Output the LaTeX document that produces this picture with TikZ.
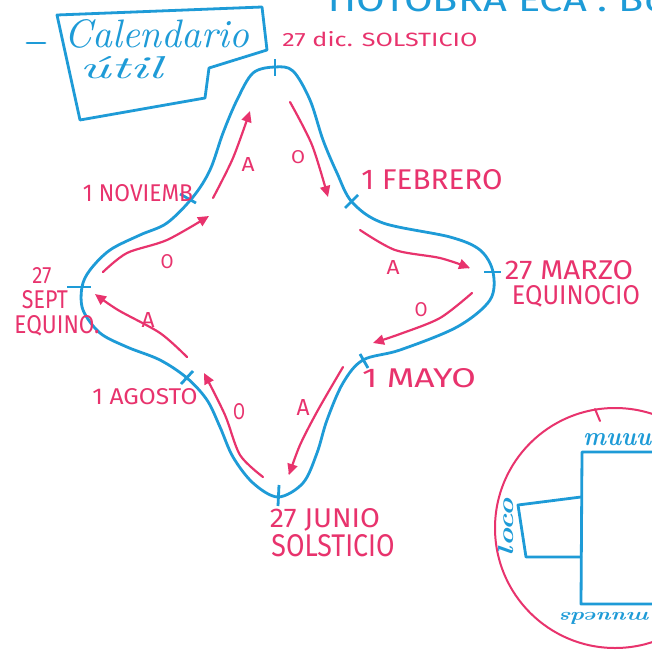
\documentclass[tikz,border=0pt]{standalone}
\usepackage{fontspec}
\newfontfamily\caps{Fira Sans}
\usetikzlibrary{arrows.meta}
\definecolor{pblue}{HTML}{1E9BD7}
\definecolor{pred}{HTML}{E8336D}
\newcommand\fitbox[3]{\resizebox{#1pt}{#2pt}{#3}}
\begin{document}
\begin{tikzpicture}[x=1pt,y=-1pt,
  bline/.style={draw=pblue,line width=2.8pt,line cap=round,line join=round},
  rline/.style={draw=pred,line width=2pt,line cap=round,line join=round},
  rarrow/.style={draw=pred,line width=2.2pt,line cap=round,-{Triangle[length=11pt,width=10pt]}},
  tickmark/.style={draw=pblue,line width=2.8pt},
  rlab/.style={text=pred,inner sep=0pt,font=\caps},
  alab/.style={text=pred,inner sep=0pt,font=\caps},
  blab/.style={text=pblue,inner sep=0pt}]
\useasboundingbox (0,0) rectangle (651,653);
\fill[white] (0,0) rectangle (651,653);

% clipped heading at top
\node[blab,anchor=south west,font=\caps] (head) at (323,12) {\fitbox{345}{24}{TIOTOBRA ECA . Bo}};

% title box
\draw[bline] (57,15) -- (262,7) -- (267,50) -- (209,68) -- (205,98) -- (80,120) -- cycle;
\draw[bline] (27,43) -- (45,43);
\node[blab] (cal) at (157,34) {\fitbox{185}{28}{\itshape Calendario}};
\node[blab] (util) at (121,68) {\fitbox{83}{22}{\itshape útil}};

% star
\draw[bline] plot[smooth cycle, tension=0.55] coordinates {
 (275,67) (293,71) (310,100) (323,140) (337,173) (352,202) (383,223) (450,237)
 (480,250) (493,272) (490,300) (457,327) (400,350) (363,360) (343,383) (327,420)
 (317,453) (303,483) (278,497) (253,483) (233,457) (220,427) (207,400) (187,378)
 (160,360) (127,347) (100,333) (83,310) (82,287) (90,270) (110,250) (140,235)
 (167,223) (193,197) (210,170) (223,133) (237,100) (253,73)};

% tick marks
\coordinate (tTop1) at (275,59);  \coordinate (tTop2) at (275,76);
\coordinate (tFeb1) at (345,208); \coordinate (tFeb2) at (358,195);
\coordinate (tMar1) at (484,272); \coordinate (tMar2) at (501,272);
\coordinate (tMay1) at (360,354); \coordinate (tMay2) at (368,368);
\coordinate (tJun1) at (279,485); \coordinate (tJun2) at (278,506);
\coordinate (tAgo1) at (181,384); \coordinate (tAgo2) at (193,371);
\coordinate (tSep1) at (67,287);  \coordinate (tSep2) at (91,287);
\coordinate (tNov1) at (180,194); \coordinate (tNov2) at (196,203);
\foreach \t in {Top,Feb,Mar,May,Jun,Ago,Sep,Nov}{\draw[tickmark] (t\t1) -- (t\t2);}

% red arrows
\draw[rarrow] plot[smooth] coordinates {(213,198) (233,158) (250,111)};
\draw[rarrow] plot[smooth] coordinates {(290,102) (312,145) (328,197)};
\draw[rarrow] plot[smooth] coordinates {(360,230) (395,250) (440,258) (470,268)};
\draw[rarrow] plot[smooth] coordinates {(472,293) (440,318) (400,334) (373,343)};
\draw[rarrow] plot[smooth] coordinates {(343,367) (318,410) (300,445) (289,475)};
\draw[rarrow] plot[smooth] coordinates {(263,477) (240,455) (225,415) (204,373)};
\draw[rarrow] plot[smooth] coordinates {(187,357) (160,333) (118,310) (95,294)};
\draw[rarrow] plot[smooth] coordinates {(103,272) (127,253) (167,240) (209,216)};

% arrow labels
\node[alab] (a1) at (248,164) {\fitbox{13}{14}{A}};
\node[alab] (a2) at (298,157) {\fitbox{14}{13}{O}};
\node[alab] (a3) at (393,267) {\fitbox{13}{14}{A}};
\node[alab] (a4) at (421,310) {\fitbox{13}{14}{O}};
\node[alab] (a5) at (303,407) {\fitbox{13}{16}{A}};
\node[alab] (a6) at (239,412) {\fitbox{12}{16}{O}};
\node[alab] (a7) at (148,320) {\fitbox{13}{15}{A}};
\node[alab] (a8) at (167,262) {\fitbox{13}{14}{O}};

% date labels
\node[rlab] (dic) at (380,39) {\fitbox{195}{15}{27 dic. SOLSTICIO}};
\node[rlab] (feb) at (432,180) {\fitbox{141}{20}{1 FEBRERO}};
\node[rlab] (mar) at (569,270) {\fitbox{128}{19}{27 MARZO}};
\node[rlab] (equ) at (576,296) {\fitbox{128}{19}{EQUINOCIO}};
\node[rlab] (may) at (419,378) {\fitbox{114}{19}{1 MAYO}};
\node[rlab] (jun) at (325,520) {\fitbox{110}{19}{27 JUNIO}};
\node[rlab] (sol) at (333,546) {\fitbox{123}{22}{SOLSTICIO}};
\node[rlab] (ago) at (145,397) {\fitbox{105}{16}{1 AGOSTO}};
\node[rlab] (s27) at (42,276) {\fitbox{19}{16}{27}};
\node[rlab] (sep) at (45,300) {\fitbox{46}{18}{SEPT}};
\node[rlab] (eqi) at (57,326) {\fitbox{85}{18}{EQUINO.}};
\node[rlab] (nov) at (138,193) {\fitbox{110}{17}{1 NOVIEMB}};

% circle sketch
\draw[rline] (615,528) circle[radius=120];
\draw[rline] (595,409) -- (600,421);
\draw[bline] (700,452) -- (582,452) -- (581,604) -- (700,604);
\draw[bline] (581,497) -- (518,505) -- (526,557) -- (581,557);
\node[blab,anchor=south west] (mu1) at (583,446) {\fitbox{68}{12}{\itshape\bfseries muuu}};
\node[blab,anchor=south west,rotate=180] (mu2) at (651,612) {\fitbox{90}{12}{\itshape\bfseries muueds}};
\node[blab,rotate=90] (loco) at (506,527) {\fitbox{58}{15}{\itshape\bfseries loco}};
\end{tikzpicture}
\end{document}
